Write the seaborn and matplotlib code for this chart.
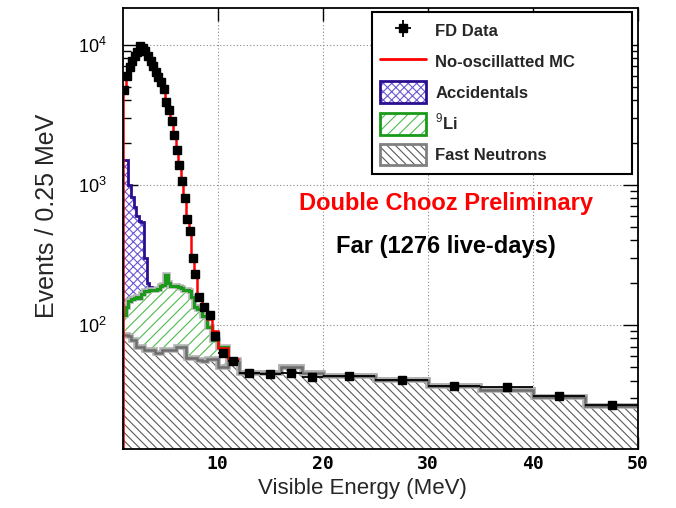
import numpy as np
import pandas as pd
import matplotlib
matplotlib.use("Agg")
import matplotlib.pyplot as plt
import seaborn as sns
from matplotlib.patches import Patch
from matplotlib.lines import Line2D
from matplotlib.legend_handler import HandlerTuple
from matplotlib.ticker import LogLocator, NullLocator, NullFormatter

# ---------------- data ----------------
bin_edges = [1.0, 1.25, 1.5, 1.75, 2.0, 2.25, 2.5, 2.75, 3.0, 3.25, 3.5, 3.75,
             4.0, 4.25, 4.5, 4.75, 5.0, 5.25, 5.5, 5.75, 6.0, 6.25, 6.5, 6.75,
             7.0, 7.25, 7.5, 7.75, 8.0, 8.5, 9.0, 9.5, 10.0, 11.0, 12.0,
             14.0, 16.0, 18.0, 20.0, 25.0, 30.0, 35.0, 40.0, 45.0, 50.0]

fd_data = [4770, 6000, 6900, 7600, 8300, 8900, 9700, 9500, 8950, 8250, 7650, 7000,
           6400, 5900, 5400, 4800, 3900, 3400, 2850, 2250, 1780, 1380, 1060, 805,
           570, 465, 300, 230,
           158, 133, 117, 83, 63, 55,
           45.6, 44.5, 45.6, 42.5, 43.5, 40.5, 36.7, 36.2, 31.1, 26.8]

no_osc_mc = [4750, 6050, 6950, 7650, 8350, 8950, 9650, 9550, 9000, 8300, 7700, 7050,
             6450, 5950, 5350, 4750, 3950, 3400, 2850, 2280, 1800, 1400, 1080, 820,
             590, 480, 310, 235,
             150, 128, 110, 90, 68, 57]

fast_neutrons = [84, 84, 83, 78, 78, 70, 70, 70, 66, 66, 66, 66,
                 63, 63, 63, 66, 66, 66, 66, 66, 69, 69, 69, 69,
                 58, 58, 58, 58,
                 56, 55, 57, 57, 50, 54,
                 45.6, 45.6, 50, 45.6, 43.1, 40.5, 36.7, 34.4, 30.5, 26.4]

lithium9 = [34, 51, 65, 74, 77, 88, 85, 95, 107, 109, 110, 112,
            115, 117, 127, 127, 159, 134, 124, 122, 119, 117, 115, 109,
            120, 117, 101, 77,
            74, 60, 40, 21, 20, 2,
            0, 0, 0, 0, 0, 0, 0, 0, 0, 0]

accidentals = [1382, 1365, 852, 668, 535, 442, 395, 375, 127, 25, 9, 2,
               1, 1, 1, 1, 0, 0, 0, 0, 0, 0, 0, 0,
               0, 0, 0, 0,
               0, 0, 0, 0, 0, 0,
               0, 0, 0, 0, 0, 0, 0, 0, 0, 0]

x_ticks = [10, 20, 30, 40, 50]
x_tick_labels = ["10", "20", "30", "40", "50"]

legend_labels = ["FD Data", "No-oscillatted MC", "Accidentals", "$^{9}$Li", "Fast Neutrons"]

# ---------------- derived ----------------
edges = np.array(bin_edges)
centers = 0.5 * (edges[:-1] + edges[1:])
widths = np.diff(edges)
fn_top = np.array(fast_neutrons, float)
li_top = fn_top + np.array(lithium9, float)
acc_top = li_top + np.array(accidentals, float)
fd = np.array(fd_data, float)
scale = widths / 0.25
fd_err = np.sqrt(fd * scale) / scale

df = pd.DataFrame({"E": centers, "fn": fn_top, "li": li_top, "acc": acc_top})

# ---------------- style ----------------
sns.set_style("ticks")
plt.rcParams["font.family"] = ["Liberation Sans", "DejaVu Sans"]
plt.rcParams["mathtext.fontset"] = "custom"
plt.rcParams["mathtext.rm"] = "Liberation Sans"
plt.rcParams["mathtext.bf"] = "Liberation Sans:bold"
plt.rcParams["hatch.linewidth"] = 0.8

fig = plt.figure(figsize=(6.76, 5.08), dpi=100)
ax = fig.add_axes([123 / 676, 1 - 449 / 508, 515 / 676, 441.5 / 508])
ax.set_yscale("log")

acc_hatch_c = "#6a58d4"
acc_line_c = "#2c0f91"
li_hatch_c = "#4dbb4d"
li_line_c = "#1a9a1a"
fn_hatch_c = "#5a5a5a"
fn_line_c = "#6e6e6e"

# stacked fills (drawn from top of stack downward, opaque white faces)
sns.histplot(data=df, x="E", weights="acc", bins=bin_edges, element="step", fill=True,
             facecolor="white", edgecolor=acc_hatch_c, linewidth=0, hatch="xxxx",
             ax=ax, zorder=2)
ax.stairs(acc_top, edges, color=acc_line_c, lw=2.0, baseline=None, zorder=2.5)

sns.histplot(data=df, x="E", weights="li", bins=bin_edges, element="step", fill=True,
             facecolor="white", edgecolor=li_hatch_c, linewidth=0, hatch="///",
             ax=ax, zorder=3)
ax.stairs(li_top, edges, color="#b5b5b5", lw=4.0, baseline=None, zorder=3.4)
ax.stairs(li_top, edges, color=li_line_c, lw=2.2, baseline=None, zorder=3.5)

sns.histplot(data=df, x="E", weights="fn", bins=bin_edges, element="step", fill=True,
             facecolor="white", edgecolor=fn_hatch_c, linewidth=0, hatch="\\\\\\\\",
             ax=ax, zorder=4)
ax.stairs(fn_top, edges, color="#b0b0b0", lw=4.0, baseline=None, zorder=4.4)
ax.stairs(fn_top, edges, color=fn_line_c, lw=1.8, baseline=None, zorder=4.5)

# MC line
mc = np.array(no_osc_mc, float)
ax.stairs(mc, edges[:len(mc) + 1], color="red", lw=1.8, baseline=None, zorder=6)
ax.vlines(edges[0], 1, mc[0], color="red", lw=1.8, zorder=6)

# data
eb = ax.errorbar(centers, fd, xerr=widths / 2, yerr=fd_err, fmt="s", color="black",
                 ms=6.2, lw=1.3, capsize=0, zorder=8, label=legend_labels[0])

# ---------------- axes ----------------
ax.set_xlim(1.0, 50.0)
ax.set_ylim(13.0, 18400)
ax.set_xticks(x_ticks, labels=x_tick_labels, fontfamily="DejaVu Sans Mono",
              fontweight="bold", fontsize=13)
ax.xaxis.set_minor_locator(NullLocator())
ax.yaxis.set_major_locator(LogLocator(base=10, numticks=10))
ax.yaxis.set_minor_locator(LogLocator(base=10, subs=np.arange(2, 10), numticks=20))
ax.yaxis.set_minor_formatter(NullFormatter())
ax.tick_params(which="both", direction="in", top=True, right=True, width=1.0, colors="black")
ax.tick_params(axis="x", which="major", length=9, pad=4)
ax.tick_params(axis="y", which="major", length=11, pad=11.5, labelsize=13)
ax.tick_params(axis="y", which="minor", length=5.5)
for s in ax.spines.values():
    s.set_linewidth(1.3)
    s.set_color("black")
    s.set_zorder(10)
ax.set_axisbelow(True)
ax.grid(True, which="major", ls=(0, (1, 2)), color="#8a8a8a", lw=0.8)

ax.set_xlabel("Visible Energy (MeV)", fontsize=16)
ax.set_ylabel("Events / 0.25 MeV", fontsize=18)
ax.xaxis.set_label_coords((362 - 123) / 515, -0.066)
ax.yaxis.set_label_coords(-0.125, (449 - 216) / 441.5)

ax.text(0.627, 0.541, "Double Chooz Preliminary", transform=ax.transAxes, color="red",
        fontsize=17, fontweight="bold", ha="center", va="baseline", zorder=9)
ax.text(0.627, 0.443, "Far (1276 live-days)", transform=ax.transAxes, color="black",
        fontsize=17, fontweight="bold", ha="center", va="baseline", zorder=9)

# ---------------- legend ----------------
h_mc = Line2D([], [], color="red", lw=2)
h_acc = (Patch(facecolor="white", edgecolor=acc_hatch_c, hatch="xxxx", lw=0),
         Patch(facecolor="none", edgecolor=acc_line_c, lw=2))
h_li = (Patch(facecolor="white", edgecolor=li_hatch_c, hatch="///", lw=0),
        Patch(facecolor="none", edgecolor=li_line_c, lw=2))
h_fn = (Patch(facecolor="white", edgecolor=fn_hatch_c, hatch="\\\\\\\\", lw=0),
        Patch(facecolor="none", edgecolor="#808080", lw=2))
leg = ax.legend([eb, h_mc, h_acc, h_li, h_fn], legend_labels,
                handler_map={tuple: HandlerTuple(ndivide=1, pad=0)},
                loc="upper left", bbox_to_anchor=(0.483, 0.99, 0.505, 0.0), mode="expand",
                borderaxespad=0, borderpad=0.5, handlelength=2.75, handleheight=1.6,
                handletextpad=0.55, labelspacing=0.55, fancybox=False, framealpha=1,
                edgecolor="black", prop={"family": "Liberation Sans", "weight": "bold", "size": 12})
leg.get_frame().set_linewidth(1.5)
leg.set_zorder(20)

fig.savefig("out.png", dpi=100)
